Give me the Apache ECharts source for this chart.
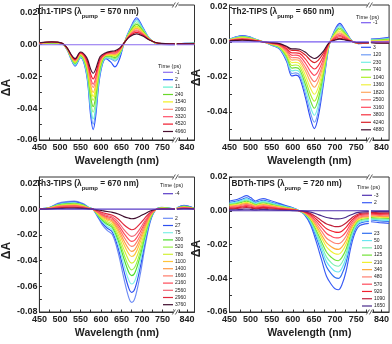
<!DOCTYPE html>
<html>
<head>
<meta charset="utf-8">
<script src="https://cdn.jsdelivr.net/npm/echarts@6/dist/echarts.min.js"></script>
<style>
html, body { margin: 0; padding: 0; background: #fff; }
#chart { width: 392px; height: 344px; }
</style>
</head>
<body>
<div id="chart"></div>
<script>
// wavelength axis is broken: 450-780 nm, then 815-858 nm
const breakLo = 780, breakHi = 815, breakGap = 5;
const wlTicks = [450, 475, 500, 525, 550, 575, 600, 625, 650, 675, 700, 725, 750, 775, 820, 840];
const wlLabels = [450, 500, 550, 600, 650, 700, 750, 840];

// all dA rows are ΔA x 1e4; '' = curve without legend entry
// ---- Th1-TIPS (pump 570 nm)
const th1Wl = [450, 480, 505, 517, 527, 537, 550, 565, 575, 581, 587, 598, 612, 624, 634, 646, 656, 670, 687, 702, 718, 740, 780, 815, 835, 858];
const th1Times = ['-1', '2', '', '11', '', '240', '', '1540', '', '2060', '3320', '4520', '4960'];
const th1dA = [
  [0, 0, 0, 0, 0, 0, 0, 0, 0, 0, 0, 0, 0, 0, 0, 0, 0, 0, 0, 0, 0, 0, 0, 0, 0, 0],
  [5, 8, 4, -30, -90, -135, -82, -190, -450, -535, -455, -190, -88, -110, -140, -85, 5, 95, 170, 110, 40, 3, 0, 5, 8, 10],
  [6, 9, 5, -29, -87, -130, -78, -179, -420, -500, -425, -178, -84, -90, -103, -65, 6, 90, 160, 104, 39, 4, 1, 5, 8, 9],
  [6, 10, 5, -28, -84, -126, -75, -169, -394, -468, -398, -168, -81, -85, -96, -60, 6, 86, 151, 100, 38, 4, 1, 5, 7, 9],
  [7, 11, 6, -26, -81, -120, -71, -156, -359, -425, -362, -154, -76, -79, -88, -55, 7, 81, 138, 93, 37, 5, 2, 5, 7, 8],
  [8, 12, 6, -25, -78, -116, -67, -145, -329, -390, -332, -143, -72, -73, -81, -50, 7, 77, 128, 88, 36, 6, 2, 5, 7, 8],
  [9, 13, 7, -24, -74, -111, -63, -133, -297, -350, -299, -130, -68, -67, -73, -44, 8, 72, 117, 81, 35, 7, 3, 5, 6, 7],
  [9, 14, 8, -23, -72, -107, -61, -125, -276, -326, -278, -122, -66, -64, -68, -41, 8, 68, 110, 78, 34, 7, 3, 5, 6, 7],
  [10, 15, 8, -22, -70, -104, -58, -117, -255, -301, -257, -114, -63, -60, -62, -37, 8, 65, 103, 74, 33, 8, 3, 5, 6, 7],
  [10, 16, 9, -21, -68, -100, -55, -108, -229, -269, -230, -104, -60, -55, -56, -33, 9, 61, 94, 69, 33, 8, 4, 5, 6, 6],
  [11, 16, 9, -20, -66, -97, -53, -101, -211, -248, -212, -97, -57, -52, -52, -30, 9, 59, 87, 66, 32, 9, 4, 5, 6, 6],
  [11, 17, 9, -19, -63, -93, -50, -91, -185, -216, -185, -87, -54, -47, -45, -25, 10, 55, 78, 61, 31, 9, 5, 5, 5, 6],
  [12, 18, 10, -18, -60, -88, -46, -80, -155, -180, -155, -75, -50, -42, -38, -20, 10, 50, 68, 55, 30, 10, 5, 5, 5, 5]
];
const th1YLabels = [-0.06, -0.04, -0.02, 0, 0.02];
const th1YTicks = [-0.06, -0.05, -0.04, -0.03, -0.02, -0.01, 0, 0.01, 0.02];

// ---- Th2-TIPS (pump 650 nm)
const th2Wl = [450, 465, 480, 495, 512, 530, 550, 568, 585, 598, 607, 616, 630, 642, 651, 660, 672, 686, 698, 711, 725, 740, 755, 780, 815, 835, 858];
const th2Times = ['-1', '3', '120', '230', '740', '1040', '1360', '1820', '2500', '3160', '3800', '4240', '4880'];
const th2dA = [
  [0, 0, 0, 0, 0, 0, 0, 0, 0, 0, 0, 0, 0, 0, 0, 0, 0, 0, 0, 0, 0, 0, 0, 0, 0, 0, 0],
  [15, 28, 35, 30, 15, 0, -20, -40, -110, -195, -190, -205, -320, -440, -495, -430, -250, -20, 60, 105, 60, 5, -10, -8, 15, 18, 25],
  [14, 26, 33, 28, 14, 0, -19, -37, -102, -181, -177, -190, -297, -408, -459, -399, -232, -19, 55, 97, 56, 5, -10, -8, 13, 16, 22],
  [13, 24, 30, 26, 13, 0, -17, -34, -94, -166, -162, -174, -271, -373, -419, -364, -213, -17, 50, 88, 51, 4, -9, -7, 11, 13, 19],
  [12, 22, 28, 24, 12, 0, -16, -31, -85, -150, -147, -158, -245, -337, -379, -330, -193, -16, 45, 79, 46, 4, -9, -7, 9, 10, 15],
  [11, 20, 25, 21, 11, 0, -14, -28, -77, -135, -132, -141, -219, -302, -339, -295, -174, -14, 40, 70, 41, 4, -8, -7, 7, 8, 12],
  [10, 18, 23, 19, 10, 0, -13, -25, -68, -119, -117, -125, -193, -266, -299, -261, -154, -13, 35, 61, 36, 4, -8, -7, 5, 5, 9],
  [9, 16, 20, 17, 9, 0, -11, -22, -60, -104, -102, -109, -167, -231, -259, -226, -135, -11, 29, 52, 31, 3, -7, -6, 3, 3, 6],
  [8, 15, 18, 15, 8, 0, -10, -20, -53, -91, -90, -96, -146, -202, -227, -199, -119, -10, 25, 45, 27, 3, -7, -6, 2, 1, 3],
  [7, 13, 16, 13, 7, 0, -9, -17, -45, -77, -76, -81, -122, -170, -191, -168, -102, -9, 20, 37, 22, 3, -6, -6, 0, -2, 0],
  [7, 11, 14, 11, 6, 0, -7, -15, -38, -63, -63, -66, -99, -138, -155, -137, -84, -7, 16, 29, 18, 2, -6, -5, -2, -4, -3],
  [6, 9, 12, 9, 5, 0, -6, -12, -30, -49, -49, -52, -76, -106, -119, -106, -67, -6, 11, 20, 13, 2, -5, -5, -4, -6, -6],
  [5, 8, 10, 8, 4, 0, -5, -10, -25, -40, -40, -42, -60, -85, -95, -85, -55, -5, 8, 15, 10, 2, -5, -5, -5, -8, -8]
];
const th2YLabels = [-0.04, -0.02, 0, 0.02];
const th2YTicks = [-0.05, -0.04, -0.03, -0.02, -0.01, 0, 0.01, 0.02];

// ---- Th3-TIPS (pump 670 nm)
const th3Wl = [450, 475, 495, 515, 535, 555, 570, 580, 592, 603, 615, 628, 642, 656, 668, 675, 683, 695, 707, 720, 733, 748, 780, 815, 832, 858];
const th3Times = ['-4', '2', '27', '75', '300', '520', '780', '1100', '1400', '1660', '2160', '2560', '2960', '3760'];
const th3dA = [
  [0, 0, 0, 0, 0, 0, 0, 0, 0, 0, 0, 0, 0, 0, 0, 0, 0, 0, 0, 0, 0, 0, 0, 0, 0, 0],
  [2, 15, 45, 58, 62, 45, 15, 0, -60, -120, -165, -200, -340, -540, -690, -725, -690, -520, -300, -100, -5, 15, 0, 10, 30, 5],
  [2, 13, 40, 52, 56, 40, 13, 0, -54, -107, -147, -179, -304, -482, -616, -647, -616, -464, -268, -90, -5, 13, 0, 9, 27, 5],
  [2, 12, 36, 47, 50, 36, 12, 0, -48, -96, -133, -162, -274, -434, -554, -582, -554, -418, -242, -81, -5, 12, 0, 8, 24, 4],
  [1, 11, 32, 42, 45, 33, 11, 0, -43, -85, -118, -144, -243, -386, -492, -517, -492, -371, -215, -73, -4, 10, 0, 7, 21, 4],
  [1, 10, 29, 38, 41, 30, 10, 0, -39, -78, -108, -132, -222, -352, -448, -472, -449, -339, -197, -67, -4, 9, 0, 6, 19, 4],
  [1, 9, 26, 34, 37, 27, 9, 0, -35, -69, -96, -118, -198, -313, -399, -420, -400, -302, -175, -60, -4, 8, 0, 5, 17, 4],
  [1, 8, 23, 30, 32, 24, 8, 0, -30, -61, -84, -104, -174, -275, -349, -368, -350, -264, -154, -53, -4, 7, 0, 5, 15, 3],
  [1, 7, 21, 27, 29, 21, 7, 0, -27, -54, -75, -93, -156, -246, -312, -329, -313, -236, -138, -48, -4, 6, 0, 4, 14, 3],
  [1, 6, 18, 24, 26, 19, 6, 0, -24, -48, -67, -83, -138, -217, -275, -290, -276, -208, -122, -43, -4, 5, 0, 3, 12, 3],
  [1, 6, 16, 21, 23, 17, 6, 0, -21, -41, -58, -72, -120, -188, -237, -251, -239, -181, -107, -38, -3, 4, 0, 3, 10, 3],
  [0, 5, 13, 18, 19, 14, 5, 0, -17, -35, -49, -62, -101, -159, -200, -212, -202, -153, -91, -33, -3, 3, 0, 2, 9, 3],
  [0, 4, 10, 14, 15, 11, 4, 0, -13, -26, -37, -48, -77, -121, -151, -160, -152, -115, -69, -26, -3, 2, 0, 1, 7, 2],
  [0, 2, 5, 7, 8, 6, 2, 0, -6, -12, -18, -25, -38, -58, -70, -75, -72, -55, -35, -15, -3, 0, 0, 0, 3, 2]
];
const th3YLabels = [-0.08, -0.06, -0.04, -0.02, 0, 0.02];
const th3YTicks = [-0.08, -0.07, -0.06, -0.05, -0.04, -0.03, -0.02, -0.01, 0, 0.01, 0.02];

// ---- BDTh-TIPS (pump 720 nm)
const bdWl = [450, 465, 480, 490, 500, 512, 522, 530, 545, 565, 585, 600, 615, 628, 642, 655, 668, 680, 692, 700, 708, 716, 726, 740, 755, 780, 815, 835, 858];
const bdTimes = ['-3', '2', '23', '50', '100', '125', '210', '340', '480', '570', '920', '1090', '1650'];
const bddA = [
  [0, 0, 0, 0, 0, 0, 0, 0, 0, 0, 0, 0, 0, 0, 0, 0, 0, 0, 0, 0, 0, 0, 0, 0, 0, 0, 0, 0, 0],
  [58, 65, 80, 90, 78, 58, 68, 72, 62, 45, 30, 18, 0, -25, -85, -180, -290, -390, -440, -462, -468, -440, -360, -190, -95, -75, -65, -70, -75],
  [50, 56, 68, 77, 67, 50, 58, 62, 53, 38, 26, 15, 0, -21, -73, -154, -248, -334, -377, -396, -401, -377, -308, -163, -81, -64, -55, -60, -64],
  [45, 50, 62, 70, 61, 45, 53, 56, 48, 35, 23, 14, 0, -19, -66, -140, -225, -303, -341, -359, -363, -342, -280, -148, -74, -58, -50, -54, -58],
  [41, 46, 56, 64, 55, 41, 48, 51, 44, 32, 21, 12, 0, -17, -60, -127, -204, -275, -310, -325, -329, -310, -254, -135, -67, -52, -45, -49, -52],
  [36, 41, 50, 57, 49, 36, 43, 46, 39, 28, 19, 11, 0, -16, -53, -114, -183, -246, -278, -292, -296, -278, -228, -121, -60, -46, -40, -43, -46],
  [32, 36, 44, 50, 43, 32, 38, 40, 34, 25, 16, 10, 0, -14, -47, -99, -160, -215, -243, -255, -258, -243, -199, -106, -53, -40, -34, -38, -40],
  [28, 31, 39, 44, 38, 28, 33, 36, 30, 22, 14, 8, 0, -12, -41, -88, -142, -191, -215, -226, -229, -215, -176, -94, -47, -35, -30, -33, -35],
  [24, 27, 33, 38, 33, 24, 28, 30, 26, 18, 12, 7, 0, -10, -35, -75, -121, -163, -183, -193, -195, -184, -151, -81, -40, -30, -25, -28, -30],
  [19, 22, 27, 32, 27, 19, 24, 25, 21, 15, 10, 6, 0, -8, -29, -62, -100, -135, -152, -160, -161, -152, -125, -67, -33, -24, -20, -23, -24],
  [15, 17, 22, 25, 21, 15, 19, 20, 17, 12, 7, 4, 0, -6, -23, -49, -79, -107, -120, -127, -128, -121, -99, -54, -26, -18, -15, -17, -18],
  [11, 13, 16, 19, 16, 11, 14, 15, 12, 9, 5, 3, 0, -5, -17, -36, -59, -79, -88, -94, -94, -89, -73, -41, -19, -13, -10, -12, -13],
  [5, 6, 8, 10, 8, 5, 7, 8, 6, 4, 2, 1, 0, -2, -8, -18, -30, -40, -45, -48, -48, -46, -38, -22, -10, -5, -3, -5, -5]
];
const bdYLabels = [-0.06, -0.04, -0.02, 0, 0.02];
const bdYTicks = [-0.06, -0.05, -0.04, -0.03, -0.02, -0.01, 0, 0.01, 0.02];

// line colours (one per row above)
const th1Colors = ['#8a6cf0', '#2850ff', '#6aa0f5', '#62f0d0', '#9af07a', '#6ad82a', '#c8f02a', '#f2f01e', '#ffb347', '#ff8c7a', '#ff5068', '#f0182a', '#4a1030'];
const th2Colors = ['#7a5cf0', '#2e4cf5', '#6f9cf5', '#74efe4', '#6fe03a', '#aef02a', '#f0f040', '#ffa860', '#ff7c74', '#ff4a5e', '#f5303e', '#d82028', '#401030'];
const th3Colors = ['#5a3cc8', '#6d8cf5', '#2e50f0', '#7ef0e6', '#4ede2e', '#98f04a', '#d2f036', '#ffc43a', '#ff9a48', '#ff7a68', '#ff4a58', '#f26474', '#e0283c', '#3e0c2c'];
const bdColors = ['#5030b0', '#3a5cf5', '#2f6ef0', '#6ae6f0', '#7af0b0', '#72e238', '#f0f030', '#ffa83a', '#ff8070', '#ff4a5a', '#f0202e', '#c0203a', '#4a2a8a'];

const FONT = '"Liberation Sans", Arial, sans-serif';

// legend groups: [first, last) index into the labelled times
const panels = [
  { name: 'Th1-TIPS', pump: 570, wl: th1Wl, times: th1Times, dA: th1dA, colors: th1Colors,
    yMin: -0.06, yMax: 0.025, yLabels: th1YLabels, yTicks: th1YTicks,
    left: 34, top: 5, namePad: 30, legLeft: 163, head: [158, 63],
    legends: [{ from: 0, to: 9, top: 69.3, step: 7.4 }] },
  { name: 'Th2-TIPS', pump: 650, wl: th2Wl, times: th2Times, dA: th2dA, colors: th2Colors,
    yMin: -0.056, yMax: 0.021, yLabels: th2YLabels, yTicks: th2YTicks,
    left: 229.5, top: 5, namePad: 10, legLeft: 361, head: [356, 14],
    legends: [{ from: 0, to: 1, top: 19.7, step: 7.5 }, { from: 1, to: 13, top: 44.3, step: 7.5 }] },
  { name: 'Th3-TIPS', pump: 670, wl: th3Wl, times: th3Times, dA: th3dA, colors: th3Colors,
    yMin: -0.08, yMax: 0.025, yLabels: th3YLabels, yTicks: th3YTicks,
    left: 34, top: 177, namePad: 12, legLeft: 163, head: [160, 182],
    legends: [{ from: 0, to: 1, top: 190.7, step: 7.2 }, { from: 1, to: 14, top: 215.3, step: 7.2 }] },
  { name: 'BDTh-TIPS', pump: 720, wl: bdWl, times: bdTimes, dA: bddA, colors: bdColors,
    yMin: -0.06, yMax: 0.02, yLabels: bdYLabels, yTicks: bdYTicks,
    left: 229.5, top: 177, namePad: 8, legLeft: 362, head: [357, 184],
    legends: [{ from: 0, to: 2, top: 192.3, step: 7.4 }, { from: 2, to: 13, top: 230.3, step: 7.27 }] }
];

function bx(w) { return w <= breakLo ? w : w - breakHi + breakLo + breakGap; }
function unbx(v) { return v <= breakLo ? v : v - breakLo - breakGap + breakHi; }

function toPoints(wl, row) {
  const pts = [];
  wl.forEach((w, i) => {
    if (i > 0 && wl[i - 1] <= breakLo && w >= breakHi) pts.push([breakLo + breakGap / 2, '-']);
    pts.push([bx(w), row[i] / 1e4]);
  });
  return pts;
}

const grids = [], xAxes = [], yAxes = [], series = [], legends = [], titles = [];

panels.forEach((p, k) => {
  grids.push({ left: p.left, top: p.top, width: 160.5, height: 135, show: true,
    borderColor: '#333', borderWidth: 1, backgroundColor: 'transparent' });

  xAxes.push({
    type: 'value', gridIndex: k, min: 450, max: bx(858),
    axisLine: { show: true, onZero: false, lineStyle: { color: '#333', width: 1 } },
    axisTick: { show: true, inside: true, length: 2.5, customValues: wlTicks.map(bx), lineStyle: { color: '#333' } },
    axisLabel: { customValues: wlLabels.map(bx), formatter: v => String(Math.round(unbx(v))),
      fontSize: 9, fontWeight: 'bold', color: '#222', margin: 3, fontFamily: FONT },
    splitLine: { show: false },
    name: 'Wavelength (nm)', nameLocation: 'middle', nameGap: 16,
    nameTextStyle: { fontSize: 10.5, fontWeight: 'bold', color: '#222', fontFamily: FONT }
  });

  yAxes.push({
    type: 'value', gridIndex: k, min: p.yMin, max: p.yMax,
    axisLine: { show: true, lineStyle: { color: '#333', width: 1 } },
    axisTick: { show: true, inside: true, length: 2.5, customValues: p.yTicks, lineStyle: { color: '#333' } },
    axisLabel: { customValues: p.yLabels, formatter: v => v.toFixed(2),
      fontSize: 9, fontWeight: 'bold', color: '#222', margin: 2, fontFamily: FONT },
    splitLine: { show: false },
    name: 'ΔA', nameLocation: 'middle', nameGap: 22,
    nameTextStyle: { fontSize: 12, fontWeight: 'bold', color: '#222', fontFamily: FONT, padding: [0, p.namePad, 0, 0] }
  });

  const names = p.times.map((t, j) => 'P' + k + ' ' + (t || '~' + j));
  p.dA.forEach((row, j) => {
    series.push({
      type: 'line', name: names[j], xAxisIndex: k, yAxisIndex: k,
      data: toPoints(p.wl, row), symbol: 'none', smooth: 0.35,
      lineStyle: { width: 1.15, color: p.colors[j] }, itemStyle: { color: p.colors[j] },
      z: j === 0 ? 4 : 3, silent: true
    });
  });

  // the // marks of the broken axis, top and bottom
  series.push({
    type: 'custom', xAxisIndex: k, yAxisIndex: k, silent: true, clip: false, z: 10,
    data: [[breakLo + breakGap / 2, p.yMin], [breakLo + breakGap / 2, p.yMax]],
    renderItem: (params, api) => {
      const c = api.coord([api.value(0), api.value(1)]);
      return { type: 'group', children: [
        { type: 'rect', shape: { x: c[0] - 2.5, y: c[1] - 2, width: 5, height: 4 }, style: { fill: '#fff' } },
        { type: 'line', shape: { x1: c[0] - 3.5, y1: c[1] + 2.5, x2: c[0] - 0.5, y2: c[1] - 2.5 }, style: { stroke: '#333', lineWidth: 0.8 } },
        { type: 'line', shape: { x1: c[0] - 0.5, y1: c[1] + 2.5, x2: c[0] + 2.5, y2: c[1] - 2.5 }, style: { stroke: '#333', lineWidth: 0.8 } }
      ] };
    }
  });

  const labelled = p.times.filter(t => t);
  p.legends.forEach(lg => {
    const want = labelled.slice(lg.from, lg.to);
    legends.push({
      orient: 'vertical', left: p.legLeft, top: lg.top, padding: 0,
      itemWidth: 10, itemHeight: 1.2, itemGap: lg.step - 6, icon: 'rect', selectedMode: false,
      data: names.filter((n, j) => p.times[j] && want.includes(p.times[j])),
      formatter: n => n.split(' ')[1],
      textStyle: { fontSize: 5, lineHeight: 6, color: '#222', fontFamily: FONT, padding: [0, 0, 0, -3] }
    });
  });

  titles.push({
    left: p.left + 2, top: p.top + 3, padding: 0,
    text: '{b|' + p.name + ' }{r|(λ}{s|pump}{r| = ' + p.pump + ' nm)}',
    textStyle: { fontSize: 8, fontFamily: FONT, color: '#222',
      rich: {
        b: { fontSize: 8.3, fontWeight: 'bold', lineHeight: 11, verticalAlign: 'top', fontFamily: FONT, color: '#222' },
        r: { fontSize: 8.3, lineHeight: 11, verticalAlign: 'top', fontFamily: FONT, color: '#222' },
        s: { fontSize: 6, lineHeight: 11, verticalAlign: 'bottom', fontFamily: FONT, color: '#222' }
      } }
  });
  titles.push({
    left: p.head[0], top: p.head[1], padding: 0, text: 'Time (ps)',
    textStyle: { fontSize: 5.5, fontWeight: 'normal', color: '#222', fontFamily: FONT }
  });
});

const chart = echarts.init(document.getElementById('chart'));
chart.setOption({
  animation: false,
  backgroundColor: '#fff',
  title: titles,
  legend: legends,
  grid: grids,
  xAxis: xAxes,
  yAxis: yAxes,
  series: series
});
</script>
</body>
</html>
